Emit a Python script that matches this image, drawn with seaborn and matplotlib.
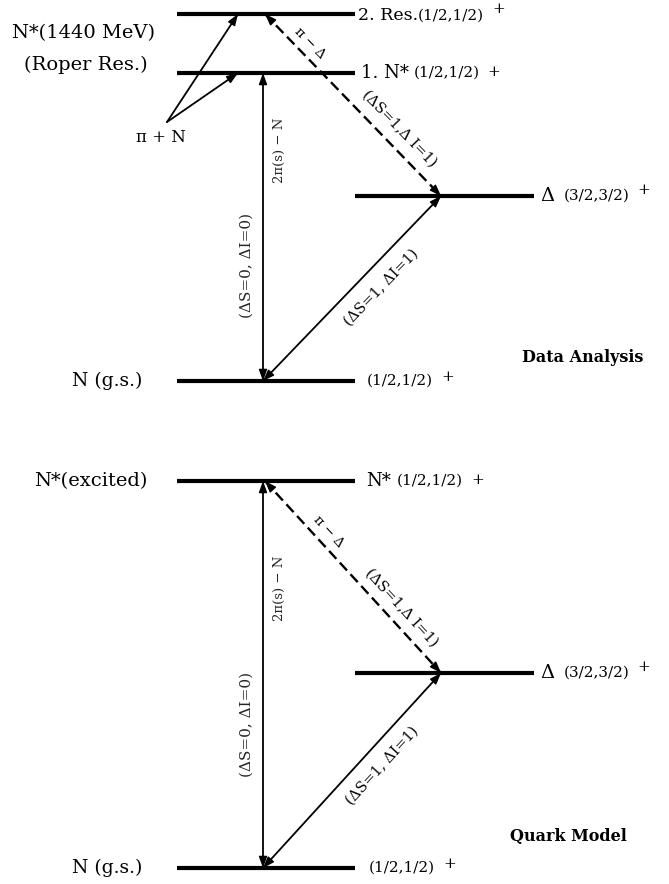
import numpy as np
import pandas as pd
import matplotlib
matplotlib.use("Agg")
import matplotlib.pyplot as plt
import seaborn as sns

# ---------------------------------------------------------------------------
# Level scheme (vertical coordinate grows downwards, figure units)
# ---------------------------------------------------------------------------
top_levels = ["2. Res.", "1. N*", "Δ", "N (g.s.)"]
top_level_y = [14, 73, 196, 381]
top_level_col = ["N", "N", "D", "N"]

bottom_levels = ["N*", "Δ", "N (g.s.)"]
bottom_level_y = [481, 673, 868]
bottom_level_col = ["N", "D", "N"]

# pi + N formation point of the Roper resonance
piN_point = (167, 122)

# Horizontal spans of the nucleon and Delta columns
col_span = {"N": (177, 355), "D": (355, 534)}
x_vert = 263      # vertical 2pi(s)-N transition
x_top = 265       # upper end of the pi-Delta transition
x_delta = 441     # where transitions meet the Delta level
x_piN = 238       # where the pi+N arrows end

sns.set_theme(style="white")
plt.rcParams["font.family"] = ["DejaVu Serif", "DejaVu Sans"]
plt.rcParams["mathtext.fontset"] = "dejavuserif"

fig = plt.figure(figsize=(6.69, 8.84), dpi=100)
ax = fig.add_axes([0, 0, 1, 1])

# ---------------------------------------------------------------------------
# Levels
# ---------------------------------------------------------------------------
rows = []
for panel, names, ys, cols in [("top", top_levels, top_level_y, top_level_col),
                               ("bottom", bottom_levels, bottom_level_y, bottom_level_col)]:
    for name, y, c in zip(names, ys, cols):
        x0, x1 = col_span[c]
        key = f"{panel}:{name}"
        rows.append({"level": key, "x": x0, "y": y})
        rows.append({"level": key, "x": x1, "y": y})
levels = pd.DataFrame(rows)
sns.lineplot(data=levels, x="x", y="y", units="level", estimator=None,
             sort=False, color="black", linewidth=3.0, ax=ax, legend=False)
for ln in ax.lines:
    ln.set_solid_capstyle("butt")

# ---------------------------------------------------------------------------
# Transitions
# ---------------------------------------------------------------------------
tY = dict(zip(top_levels, top_level_y))
bY = dict(zip(bottom_levels, bottom_level_y))

# (name, start, end, kind, head at start, head at end)
transitions = [
    ("piN_res2", piN_point, (x_piN, tY["2. Res."]), "solid", False, True),
    ("piN_res1", piN_point, (x_piN, tY["1. N*"]), "solid", False, True),
    ("t_vert", (x_vert, tY["1. N*"]), (x_vert, tY["N (g.s.)"]), "solid", True, True),
    ("t_pidelta", (x_top, tY["2. Res."]), (x_delta, tY["Δ"]), "dashed", True, True),
    ("t_ndelta", (x_vert, tY["N (g.s.)"]), (x_delta, tY["Δ"]), "solid", True, True),
    ("b_vert", (x_vert, bY["N*"]), (x_vert, bY["N (g.s.)"]), "solid", True, True),
    ("b_pidelta", (x_top, bY["N*"]), (x_delta, bY["Δ"]), "dashed", True, True),
    ("b_ndelta", (x_vert, bY["N (g.s.)"]), (x_delta, bY["Δ"]), "solid", True, True),
]

trows = []
for name, p0, p1, kind, _, _ in transitions:
    trows.append({"tr": name, "x": p0[0], "y": p0[1], "kind": kind})
    trows.append({"tr": name, "x": p1[0], "y": p1[1], "kind": kind})
tdf = pd.DataFrame(trows)
sns.lineplot(data=tdf[tdf.kind == "solid"], x="x", y="y", units="tr",
             estimator=None, sort=False, color="black", linewidth=1.3,
             ax=ax, legend=False)
sns.lineplot(data=tdf[tdf.kind == "dashed"], x="x", y="y", units="tr",
             estimator=None, sort=False, color="black", linewidth=1.7,
             dashes=False, ax=ax, legend=False)
ax.lines[-1].set_dashes((4.5, 2.2))
ax.lines[-2].set_dashes((4.5, 2.2))


def head(tip, other):
    """Filled arrow head at `tip`, pointing away from `other`."""
    v = np.array(tip, float) - np.array(other, float)
    v /= np.linalg.norm(v)
    tail = np.array(tip, float) - v * 1.0
    ax.annotate("", xy=tip, xytext=tuple(tail),
                arrowprops=dict(arrowstyle="-|>,head_length=0.55,head_width=0.2",
                                color="black", lw=1.0, shrinkA=0, shrinkB=0,
                                mutation_scale=12.5))


for name, p0, p1, kind, h0, h1 in transitions:
    if h0:
        head(p0, p1)
    if h1:
        head(p1, p0)

# ---------------------------------------------------------------------------
# Text
# ---------------------------------------------------------------------------
def txt(x, y, s, size, **kw):
    kw.setdefault("ha", "left")
    kw.setdefault("va", "center")
    ax.text(x, y, s, fontsize=size, color="black", **kw)


def rot_label(x, y, s, size, p0, p1):
    ang = np.degrees(np.arctan2(-(p1[1] - p0[1]), p1[0] - p0[0]))
    if ang > 90:
        ang -= 180
    if ang < -90:
        ang += 180
    ax.text(x, y, s, fontsize=size, rotation=ang, rotation_mode="anchor",
            ha="center", va="center", color="black")


# left-hand names
txt(83, 33, "N*(1440 MeV)", 14, ha="center")
txt(86, 65, "(Roper Res.)", 14, ha="center")
txt(161, 137, "π + N", 12, ha="center")
txt(107, tY["N (g.s.)"], "N (g.s.)", 13.5, ha="center")
txt(91, bY["N*"], "N*(excited)", 14, ha="center")
txt(107, bY["N (g.s.)"], "N (g.s.)", 13.5, ha="center")

# right-hand quantum numbers (top panel)
txt(358, tY["2. Res."] + 2, "2. Res.", 12.5)
txt(418, tY["2. Res."] + 2, "(1/2,1/2)", 11)
txt(492, tY["2. Res."] - 5, "+", 11)
txt(361, tY["1. N*"], "1. N*", 13)
txt(414, tY["1. N*"], "(1/2,1/2)", 11)
txt(487, tY["1. N*"] - 1, "+", 11)
txt(540, tY["Δ"], "Δ", 14)
txt(564, tY["Δ"], "(3/2,3/2)", 11)
txt(637, tY["Δ"] - 6, "+", 11)
txt(367, tY["N (g.s.)"], "(1/2,1/2)", 11)
txt(441, tY["N (g.s.)"] - 4, "+", 11)

# right-hand quantum numbers (bottom panel)
txt(366, bY["N*"], "N*", 13)
txt(397, bY["N*"], "(1/2,1/2)", 11)
txt(471, bY["N*"] - 1, "+", 11)
txt(540, bY["Δ"], "Δ", 14)
txt(564, bY["Δ"], "(3/2,3/2)", 11)
txt(637, bY["Δ"] - 6, "+", 11)
txt(369, bY["N (g.s.)"], "(1/2,1/2)", 11)
txt(443, bY["N (g.s.)"] - 4, "+", 11)

# panel titles
txt(583, 357, "Data Analysis", 11.5, ha="center", fontweight="bold")
txt(568, 837, "Quark Model", 11.5, ha="center", fontweight="bold")

# transition labels
for ym_a, ym_b in [(150, 265), (588, 724)]:
    ax.text(x_vert + 16, ym_a, "2π(s) − N", fontsize=9.5, rotation=90,
            ha="center", va="center")
    ax.text(x_vert - 16, ym_b, "(ΔS=0, ΔI=0)", fontsize=11, rotation=90,
            ha="center", va="center")

p_top_d = ((x_top, tY["2. Res."]), (x_delta, tY["Δ"]))
p_bot_d = ((x_top, bY["N*"]), (x_delta, bY["Δ"]))
p_top_s = ((x_vert, tY["N (g.s.)"]), (x_delta, tY["Δ"]))
p_bot_s = ((x_vert, bY["N (g.s.)"]), (x_delta, bY["Δ"]))

rot_label(310, 43, "π − Δ", 9.5, *p_top_d)
rot_label(399, 129, "(ΔS=1,Δ I=1)", 10.5, *p_top_d)
rot_label(328, 532, "π − Δ", 9.5, *p_bot_d)
rot_label(402, 608, "(ΔS=1,Δ I=1)", 10.5, *p_bot_d)
rot_label(381, 287, "(ΔS=1, ΔI=1)", 10.5, *p_top_s)
rot_label(382, 766, "(ΔS=1, ΔI=1)", 10.5, *p_bot_s)

ax.set_xlim(0, 669)
ax.set_ylim(884, 0)
ax.axis("off")
fig.savefig("out.png", dpi=100, facecolor="white")
